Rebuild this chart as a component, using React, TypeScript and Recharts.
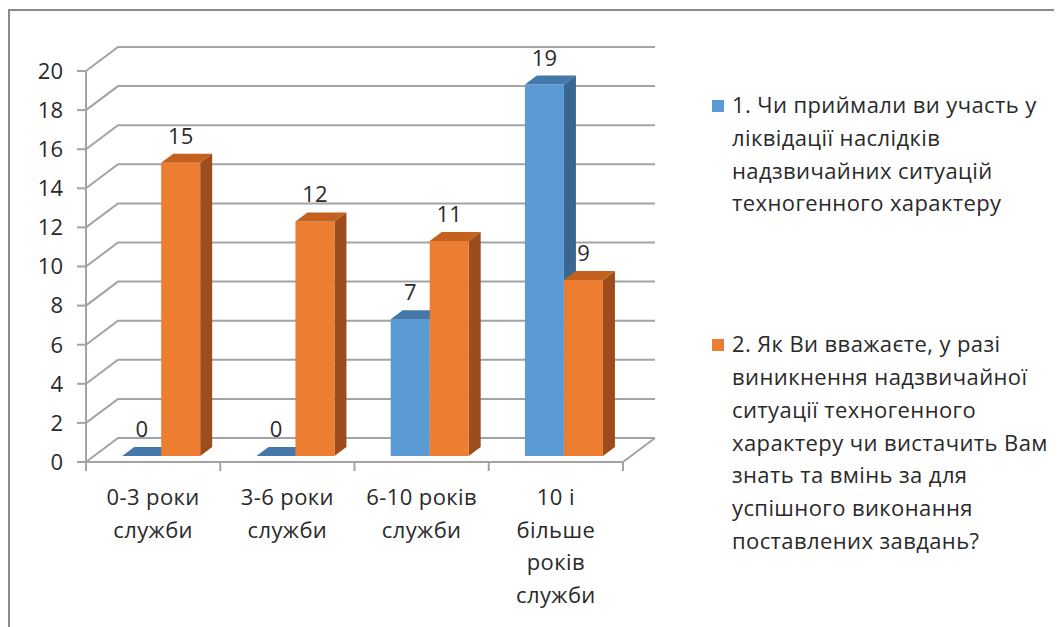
import React from 'react';
import { BarChart, Bar, XAxis, YAxis, CartesianGrid, Legend, LabelList } from 'recharts';

const categories = ['0-3 роки\nслужби', '3-6 роки\nслужби', '6-10 років\nслужби', '10 і\nбільше\nроків\nслужби'];
const participated = [0, 0, 7, 19];
const enoughSkills = [15, 12, 11, 9];
const yTicks = [0, 2, 4, 6, 8, 10, 12, 14, 16, 18, 20];

const series1Name = '1. Чи приймали ви участь у\nліквідації наслідків\nнадзвичайних ситуацій\nтехногенного характеру';
const series2Name = '2. Як Ви вважаєте, у разі\nвиникнення надзвичайної\nситуації техногенного\nхарактеру чи вистачить Вам\nзнать та вмінь за для\nуспішного виконання\nпоставлених завдань?';

const data = categories.map((name, i) => ({ name, s1: participated[i], s2: enoughSkills[i] }));

const FONT = '"Open Sans", sans-serif';
const TEXT = '#2a2a2a';
const GRID = '#a3a3a3';
const FS = 22;
const LS = '0.4px';

// perspective offsets
const BACK_DX = 32;
const BACK_DY = -24;
const BAR_DX = 8;
const BAR_DY = -6;
const SIDE_DX = 12;
const SIDE_DY = -9;

const palette: Record<string, { front: string; top: string; side: string }> = {
  s1: { front: '#5b9bd5', top: '#4478aa', side: '#3a6791' },
  s2: { front: '#ed7d31', top: '#c4611f', side: '#9c4d1b' },
};

const Bar3D = (props: any) => {
  const { x, y, width, height, dataKey } = props;
  if (x == null || y == null) return null;
  const c = palette[dataKey] || palette.s1;
  const fx = x + BAR_DX;
  const fy = y + BAR_DY;
  const h = Math.max(height || 0, 0);
  const top = `${fx},${fy} ${fx + SIDE_DX},${fy + SIDE_DY} ${fx + width + SIDE_DX},${fy + SIDE_DY} ${fx + width},${fy}`;
  const side = `${fx + width},${fy} ${fx + width + SIDE_DX},${fy + SIDE_DY} ${fx + width + SIDE_DX},${fy + h + SIDE_DY} ${fx + width},${fy + h}`;
  return (
    <g>
      {h > 0 && <polygon points={side} fill={c.side} />}
      {h > 0 && <rect x={fx} y={fy} width={width} height={h} fill={c.front} />}
      <polygon points={top} fill={c.top} />
    </g>
  );
};

const GridLine = (props: any) => {
  const { x1, x2, y1, y, height } = props;
  const isBottom = y != null && height != null && Math.abs(y1 - (y + height)) < 1;
  let d = `M${x1},${y1} L${x1 + BACK_DX},${y1 + BACK_DY} L${x2 + BACK_DX},${y1 + BACK_DY}`;
  if (isBottom) d += ` M${x2},${y1} L${x2 + BACK_DX},${y1 + BACK_DY}`;
  return <path key={props.key} d={d} stroke={GRID} strokeWidth={2} fill="none" />;
};

const ValueLabel = (props: any) => {
  const { x, y, width, value } = props;
  return (
    <text x={x + width / 2 + BAR_DX} y={y - 25} textAnchor="middle" fontFamily={FONT} fontSize={FS} fill={TEXT}>
      {value}
    </text>
  );
};

const CategoryTick = (props: any) => {
  const { x, y, payload, index } = props;
  const half = payload && payload.offset ? payload.offset : 67;
  const axisY = y - 9;
  const lines = String(payload.value).split('\n');
  return (
    <g>
      <line x1={x - half} y1={axisY} x2={x - half} y2={axisY + 9} stroke={GRID} strokeWidth={2} />
      {index === categories.length - 1 && (
        <line x1={x + half} y1={axisY} x2={x + half} y2={axisY + 9} stroke={GRID} strokeWidth={2} />
      )}
      <text x={x} y={y + 34} textAnchor="middle" fontFamily={FONT} fontSize={FS} fill={TEXT} letterSpacing={LS}>
        {lines.map((l, i) => (
          <tspan key={i} x={x} dy={i === 0 ? 0 : 32.5}>
            {l}
          </tspan>
        ))}
      </text>
    </g>
  );
};

const LegendContent = (props: any) => {
  const { payload } = props;
  return (
    <div style={{ fontFamily: FONT, fontSize: FS, color: TEXT, lineHeight: '32.8px', letterSpacing: LS }}>
      {(payload || []).map((entry: any, i: number) => (
        <div key={i} style={{ display: 'flex', alignItems: 'flex-start', marginBottom: i === 0 ? 108 : 0 }}>
          <span
            style={{
              display: 'inline-block',
              width: 12,
              height: 12,
              marginTop: 12,
              marginRight: 8,
              flex: '0 0 12px',
              background: palette[entry.dataKey]?.front || entry.color,
            }}
          />
          <span style={{ whiteSpace: 'pre-line' }}>{entry.value}</span>
        </div>
      ))}
    </div>
  );
};

export default function App() {
  return (
    <div style={{ position: 'relative', width: 1054, height: 619 }}>
      <div
        style={{
          position: 'absolute',
          left: 0,
          top: 1,
          width: 1054,
          height: 618,
          borderTop: '2px solid #8a8a8a',
          borderLeft: '2px solid #8a8a8a',
          boxSizing: 'border-box',
        }}
      />
      <BarChart
        width={1054}
        height={619}
        data={data}
        margin={{ top: 63, right: 439, bottom: 0, left: 0 }}
        barCategoryGap="21%"
        barGap={0}
      >
        <CartesianGrid vertical={false} horizontal={GridLine} />
        <XAxis
          dataKey="name"
          height={165}
          interval={0}
          tickSize={9}
          tickMargin={0}
          tickLine={false}
          axisLine={{ stroke: GRID, strokeWidth: 2 }}
          tick={<CategoryTick />}
        />
        <YAxis
          width={78}
          domain={[0, 20]}
          ticks={yTicks}
          interval={0}
          tickSize={9}
          tickMargin={14}
          axisLine={{ stroke: GRID, strokeWidth: 2 }}
          tickLine={{ stroke: GRID, strokeWidth: 2 }}
          tick={{ fontFamily: FONT, fontSize: FS, fill: TEXT }}
        />
        <Legend
          layout="horizontal"
          align="center"
          verticalAlign="middle"
          wrapperStyle={{ position: 'absolute', left: 704, top: 80, width: 350, height: 'auto' }}
          content={<LegendContent />}
        />
        <Bar dataKey="s1" name={series1Name} fill={palette.s1.front} shape={<Bar3D />} isAnimationActive={false}>
          <LabelList dataKey="s1" content={<ValueLabel />} />
        </Bar>
        <Bar dataKey="s2" name={series2Name} fill={palette.s2.front} shape={<Bar3D />} isAnimationActive={false}>
          <LabelList dataKey="s2" content={<ValueLabel />} />
        </Bar>
      </BarChart>
    </div>
  );
}
